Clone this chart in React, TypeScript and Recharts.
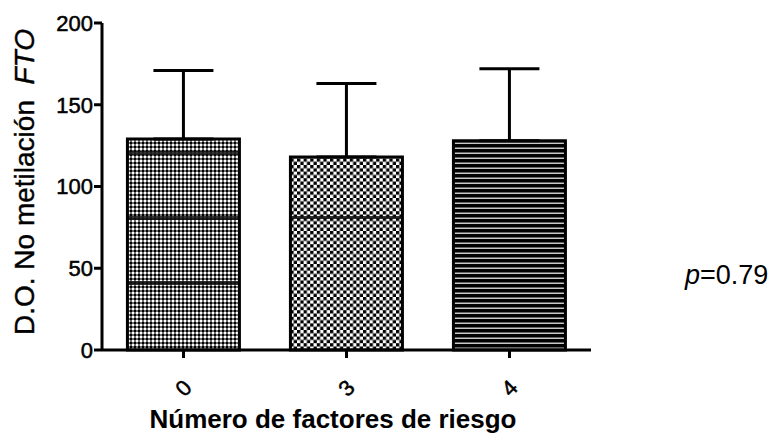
import React from 'react';
import { BarChart, Bar, XAxis, YAxis, ErrorBar, Cell, Customized } from 'recharts';

const categories = ['0', '3', '4'];
const means = [129, 118, 128];
const upperValues = [171, 163, 172];
const yTicks = [0, 50, 100, 150, 200];
const patternIds = ['pat0', 'pat3', 'pat4'];

const data = categories.map((c, i) => ({
  cat: c,
  value: means[i],
  err: [0, upperValues[i] - means[i]],
}));

const FONT = '"Liberation Sans", Arial, sans-serif';

const XTick = (props: any) => {
  const { x, y, payload } = props;
  return (
    <text
      x={x}
      y={y + 28}
      transform={`rotate(-45, ${x}, ${y + 28})`}
      textAnchor="middle"
      dominantBaseline="central"
      fontFamily={FONT}
      fontSize={22}
      fill="#000"
      stroke="#000"
      strokeWidth={0.5}
    >
      {payload.value}
    </text>
  );
};

const Extras = () => (
  <g>
    <defs>
      <pattern id="dots" patternUnits="userSpaceOnUse" width="4" height="4">
        <rect width="4" height="4" fill="#6e6e6e" />
        <rect x="0" y="0" width="2" height="2" fill="#fff" />
        <rect x="2" y="2" width="2" height="2" fill="#000" />
      </pattern>
      <pattern id="checker" patternUnits="userSpaceOnUse" width="6.6" height="6.6">
        <rect width="6.6" height="6.6" fill="#fff" />
        <rect x="0" y="0" width="3.3" height="3.3" fill="#000" />
        <rect x="3.3" y="3.3" width="3.3" height="3.3" fill="#000" />
      </pattern>
      <pattern id="pat0" patternUnits="userSpaceOnUse" x="0" y="0" width="776" height="436">
        <rect width="776" height="436" fill="url(#dots)" />
        <rect y="151" width="776" height="4" fill="#111" opacity="0.85" />
        <rect y="216" width="776" height="4" fill="#111" opacity="0.85" />
        <rect y="281" width="776" height="4" fill="#111" opacity="0.85" />
      </pattern>
      <pattern id="pat3" patternUnits="userSpaceOnUse" x="0" y="0" width="776" height="436">
        <rect width="776" height="436" fill="url(#checker)" />
        <rect y="216" width="776" height="3" fill="#111" opacity="0.85" />
      </pattern>
      <pattern id="pat4" patternUnits="userSpaceOnUse" width="5" height="5">
        <rect width="5" height="5" fill="#000" />
        <rect y="2.5" width="5" height="1.5" fill="#c8c8c8" />
      </pattern>
    </defs>
    <text
      transform="translate(34, 182) rotate(-90)"
      textAnchor="middle"
      fontFamily={FONT}
      fontSize={28}
      fill="#000"
      stroke="#000"
      strokeWidth={0.4}
    >
      D.O. No metilación{'\u00a0\u00a0'}
      <tspan fontStyle="italic">FTO</tspan>
    </text>
    <text
      x={333}
      y={428}
      textAnchor="middle"
      fontFamily={FONT}
      fontSize={26}
      fontWeight="bold"
      fill="#000"
    >
      Número de factores de riesgo
    </text>
    <text x={685} y={284} fontFamily={FONT} fontSize={27} fill="#000">
      <tspan fontStyle="italic">p</tspan>=0.79
    </text>
  </g>
);

export default function App() {
  return (
    <div style={{ position: 'absolute', left: 0, top: 0, background: '#fff' }}>
      <BarChart
        width={776}
        height={436}
        data={data}
        margin={{ top: 23, right: 185, bottom: 0, left: 0 }}
        barCategoryGap="15.6%"
      >
        <Customized component={<Extras />} />
        <XAxis
          dataKey="cat"
          height={86}
          axisLine={{ stroke: '#000', strokeWidth: 3 }}
          tickLine={{ stroke: '#000', strokeWidth: 3 }}
          tickSize={8}
          tick={<XTick />}
          interval={0}
        />
        <YAxis
          width={102}
          domain={[0, 200]}
          ticks={yTicks}
          interval={0}
          axisLine={{ stroke: '#000', strokeWidth: 3 }}
          tickLine={{ stroke: '#000', strokeWidth: 3 }}
          tickSize={8}
          tickMargin={1}
          tick={{ fill: '#000', fontSize: 22, fontFamily: FONT, stroke: '#000', strokeWidth: 0.5 }}
        />
        <Bar dataKey="value" stroke="#000" strokeWidth={3} isAnimationActive={false}>
          {data.map((d, i) => (
            <Cell key={d.cat} fill={`url(#${patternIds[i]})`} />
          ))}
          <ErrorBar dataKey="err" width={30} stroke="#000" strokeWidth={3} direction="y" />
        </Bar>
      </BarChart>
    </div>
  );
}
